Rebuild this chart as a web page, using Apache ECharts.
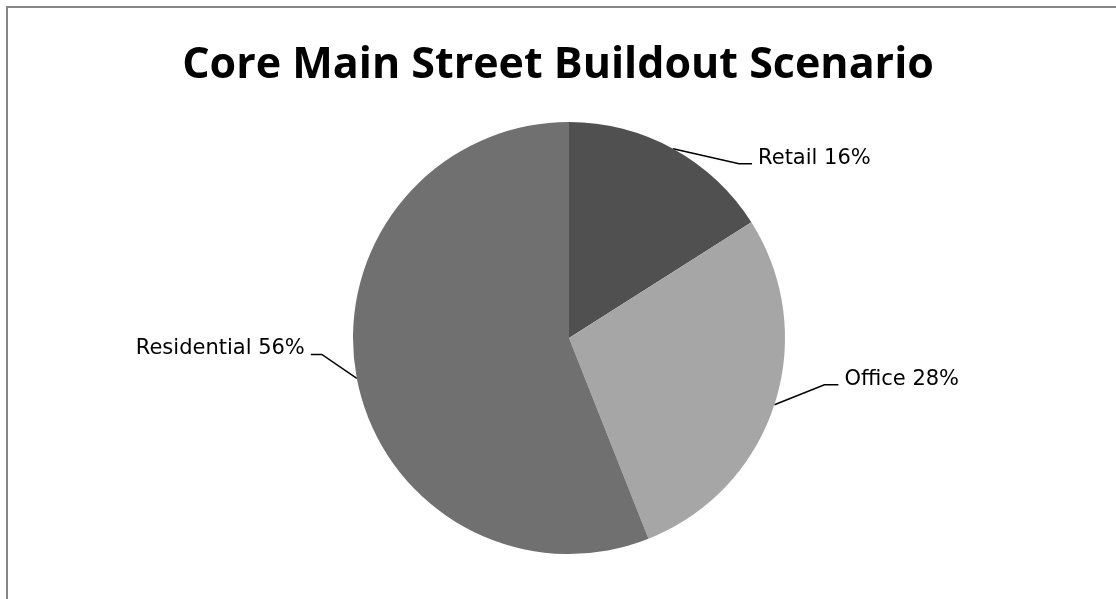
<!DOCTYPE html>
<html>
<head>
<meta charset="utf-8">
<title>Core Main Street Buildout Scenario</title>
<script src="https://cdn.jsdelivr.net/npm/echarts@6/dist/echarts.min.js"></script>
<style>
  html, body { margin: 0; padding: 0; background: #ffffff; }
  #chart { width: 1116px; height: 599px; }
</style>
</head>
<body>
<div id="chart"></div>
<script>
// Share of floor area by land use
const categories = ['Retail', 'Office', 'Residential'];
const shares = [16, 28, 56];
const sliceColors = ['#505050', '#a6a6a6', '#707070'];

// Leader line shape per slice: bend offset from the slice edge, then a short horizontal run
const leaderBend = [[66, 15], [50, -20], [-35, -24]];
const leaderRun = [13, 14, -11];

const chart = echarts.init(document.getElementById('chart'), null, { renderer: 'canvas' });

chart.setOption({
  backgroundColor: '#ffffff',
  animation: false,
  title: {
    text: 'Core Main Street Buildout Scenario',
    left: 'center',
    top: 39,
    textStyle: {
      fontFamily: 'Open Sans',
      fontWeight: 'bold',
      fontSize: 43,
      color: '#000000'
    }
  },
  graphic: [{
    type: 'rect',
    silent: true,
    shape: { x: 7, y: 7, width: 1200, height: 700 },
    style: { fill: 'none', stroke: '#868686', lineWidth: 2 }
  }],
  series: [{
    type: 'pie',
    center: [569, 338],
    radius: 216,
    startAngle: 90,
    clockwise: true,
    label: {
      show: true,
      position: 'outside',
      formatter: (p) => p.name + ' ' + p.value + '%',
      fontFamily: 'DejaVu Sans',
      fontSize: 21,
      color: '#000000'
    },
    labelLine: {
      show: true,
      length: 20,
      length2: 10,
      lineStyle: { color: '#000000', width: 1.5 }
    },
    labelLayout: function (params) {
      const i = params.dataIndex;
      const start = params.labelLinePoints[0];
      const bend = [start[0] + leaderBend[i][0], start[1] + leaderBend[i][1]];
      const end = [bend[0] + leaderRun[i], bend[1]];
      const right = leaderRun[i] > 0;
      return {
        x: end[0] + (right ? 6 : -6),
        y: end[1] + 5,
        align: right ? 'left' : 'right',
        verticalAlign: 'bottom',
        labelLinePoints: [start, bend, end]
      };
    },
    itemStyle: { borderWidth: 0 },
    emphasis: { disabled: true },
    data: categories.map((name, i) => ({
      name: name,
      value: shares[i],
      itemStyle: { color: sliceColors[i] }
    }))
  }]
});
</script>
</body>
</html>
